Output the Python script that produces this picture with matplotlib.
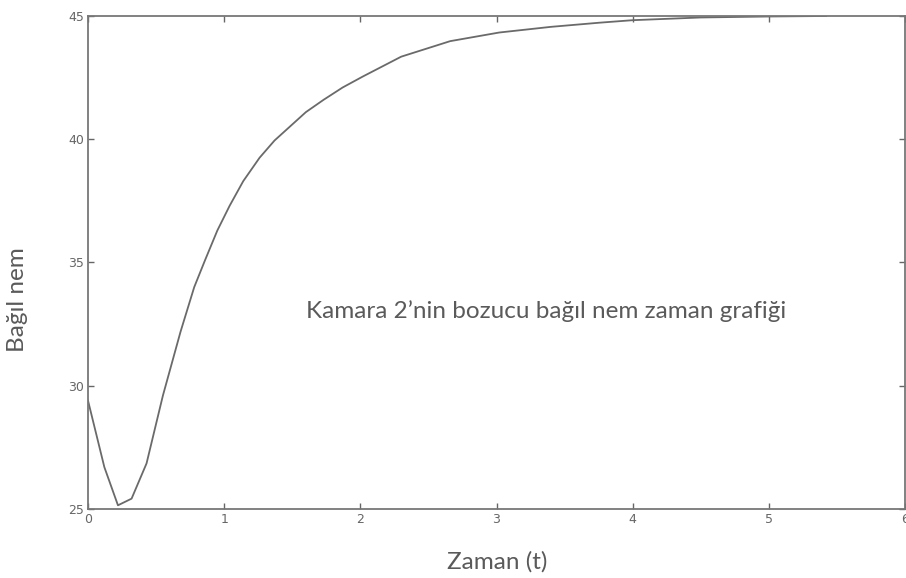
import matplotlib
matplotlib.use("Agg")
import matplotlib.pyplot as plt

# readings (time, relative humidity)
t_vals = [0.0, 0.12, 0.22, 0.32, 0.43, 0.55, 0.68, 0.78, 0.86, 0.95, 1.04,
          1.14, 1.26, 1.37, 1.48, 1.60, 1.73, 1.87, 2.02, 2.30, 2.66, 3.02,
          3.40, 3.76, 4.00, 4.50, 5.00, 5.42]
rh_vals = [29.4, 26.7, 25.15, 25.42, 26.85, 29.6, 32.2, 34.0, 35.1, 36.3, 37.3,
           38.3, 39.25, 39.95, 40.5, 41.1, 41.6, 42.1, 42.55, 43.35, 43.98, 44.33,
           44.56, 44.73, 44.83, 44.94, 44.98, 45.0]
x_ticks = [0, 1, 2, 3, 4, 5, 6]
y_ticks = [25, 30, 35, 40, 45]

fig = plt.figure(figsize=(9.06, 5.78), dpi=100)
ax = fig.add_axes([88/906, 69/578, 817/906, 493/578])

ax.plot(t_vals, rh_vals, color="#6a6a6a", lw=1.3)

ax.set_xlim(0, 6); ax.set_ylim(25, 45)
ax.set_xticks(x_ticks); ax.set_yticks(y_ticks)
ax.tick_params(direction="in", top=True, right=True, length=4, width=1,
               colors="#666666", labelsize=9, pad=3)
for s in ax.spines.values():
    s.set_color("#777777"); s.set_linewidth(1.3)

lab = dict(family=["Lato", "DejaVu Sans"], color="#5a5a5a", fontsize=17.5)
fig.text(497/906, 1 - 562/578, "Zaman (t)", ha="center", va="center", **lab)
fig.text(18/906, 1 - 300/578, "Bağıl nem", ha="center", va="center", rotation=90, **lab)
fig.text(546/906, 1 - 311/578, "Kamara 2’nin bozucu bağıl nem zaman grafiği",
         ha="center", va="center", **lab)

fig.savefig("out.png", dpi=100, facecolor="white")
